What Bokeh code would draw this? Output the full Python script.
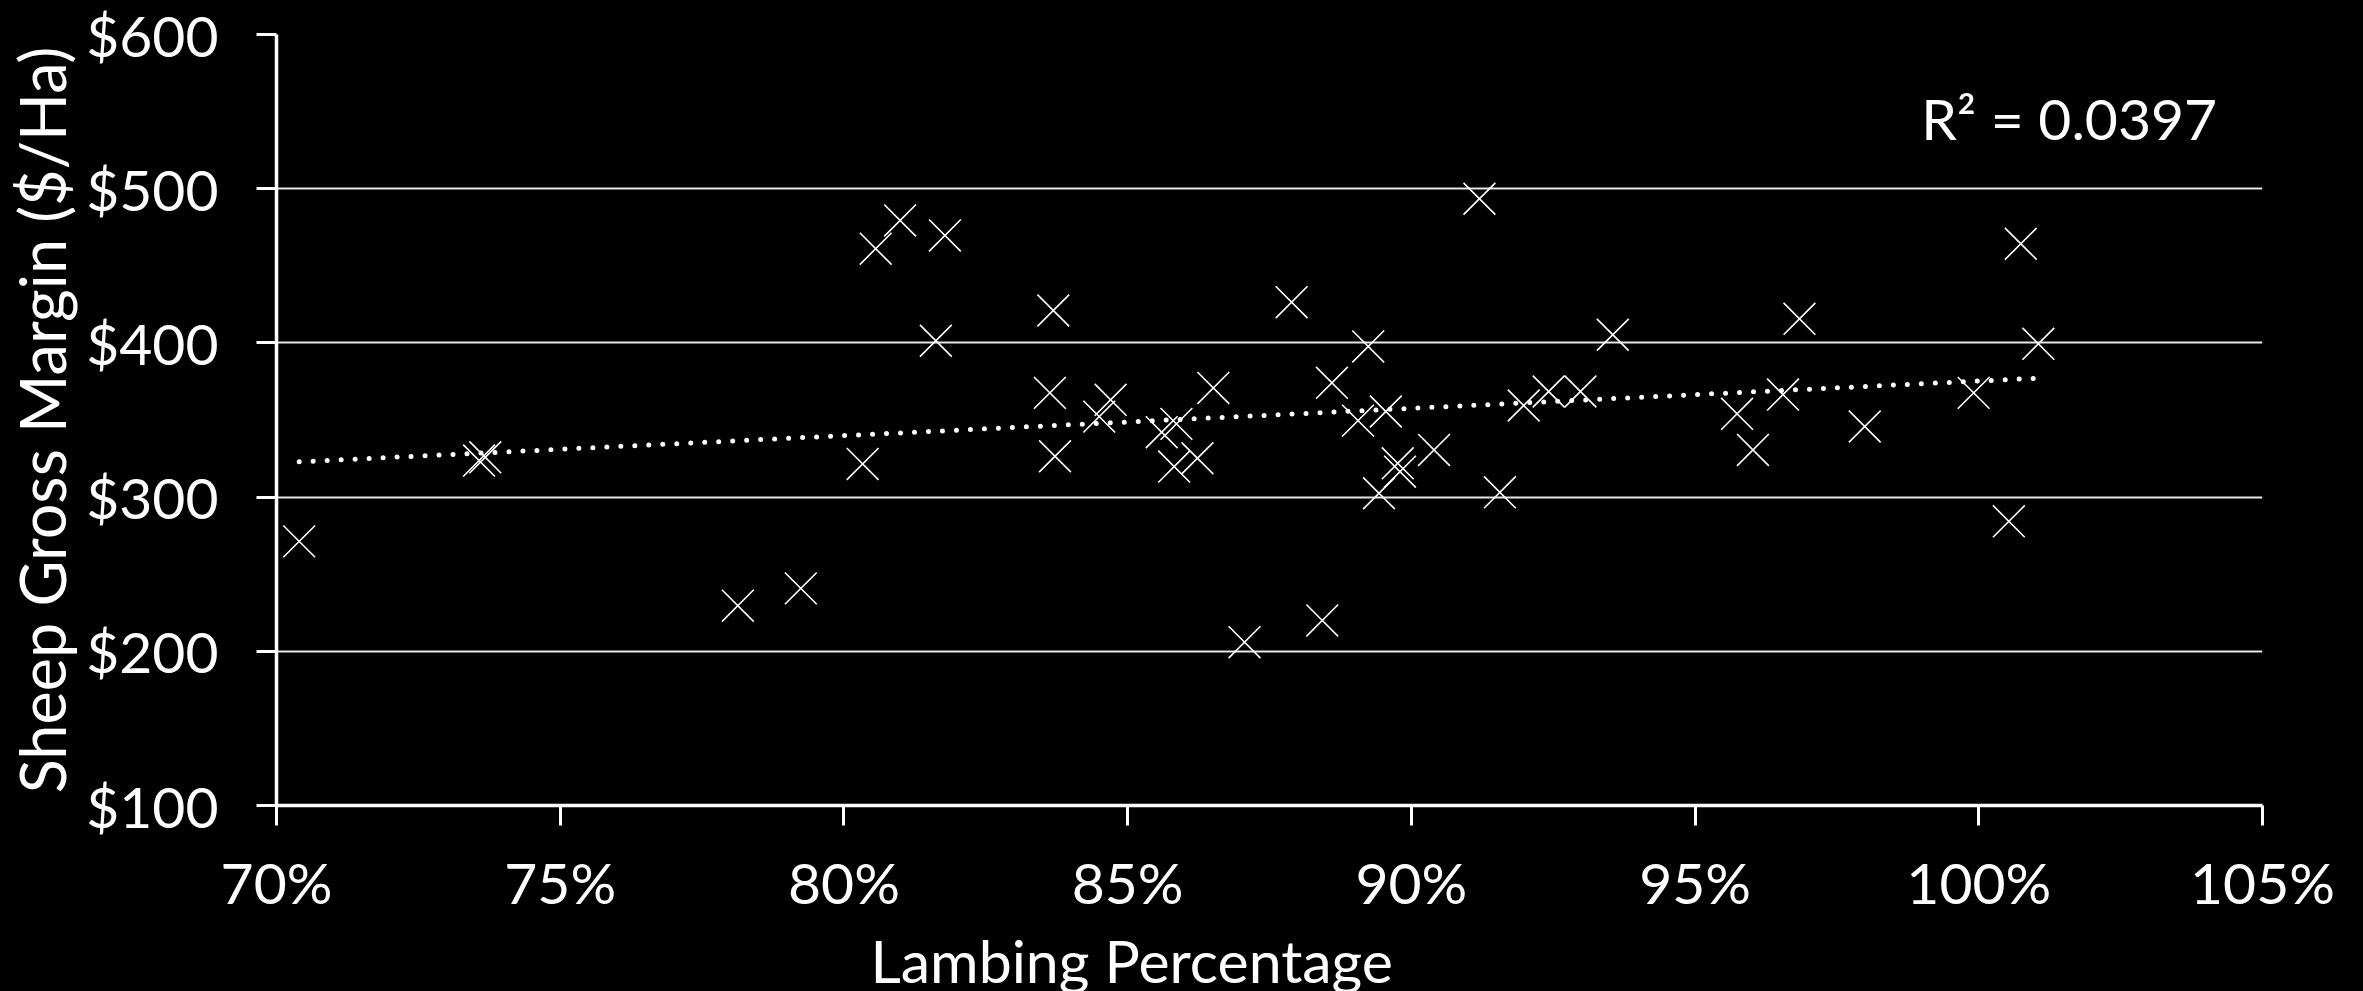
import numpy as np
from bokeh.plotting import figure
from bokeh.models import Range1d, FixedTicker, NumeralTickFormatter, Label, Title, ColumnDataSource
from bokeh.embed import file_html
from bokeh.resources import INLINE

# ---- data ----
lambing_pct = [0.7040, 0.7357, 0.7368, 0.7813, 0.7924, 0.8033, 0.8056, 0.8099, 0.8178, 0.8162,
               0.8369, 0.8363, 0.8372, 0.8450, 0.8470, 0.8560, 0.8586, 0.8582, 0.8623, 0.8651,
               0.8706, 0.8789, 0.8843, 0.8860, 0.8924, 0.8906, 0.8955, 0.8943, 0.8976, 0.8980,
               0.9040, 0.9120, 0.9156, 0.9198, 0.9242, 0.9298, 0.9355, 0.9574, 0.9602, 0.9655,
               0.9684, 0.9799, 0.9991, 1.0053, 1.0074, 1.0105]
gross_margin = [271.3, 323.7, 325.8, 229.6, 240.8, 321.5, 461.1, 479.4, 469.7, 401.4,
                421.0, 367.6, 326.5, 352.2, 363.1, 342.1, 347.5, 319.8, 325.2, 370.8,
                205.9, 426.4, 220.0, 374.1, 397.7, 349.6, 355.5, 302.5, 321.9, 316.5,
                330.6, 493.5, 303.1, 359.4, 368.5, 368.5, 405.3, 354.0, 330.6, 366.5,
                415.6, 345.8, 367.6, 284.3, 464.3, 399.4]
x_ticks = [0.70, 0.75, 0.80, 0.85, 0.90, 0.95, 1.00, 1.05]
y_ticks = [100, 200, 300, 400, 500, 600]
x_title = "Lambing Percentage"
y_title = "Sheep Gross Margin ($/Ha)"
r2_text = "R\u00b2 = 0.0397"

FONT = "Lato"
WHITE = "#ffffff"

p = figure(width=2363, height=1001, output_backend="svg", toolbar_location=None,
           x_range=Range1d(0.70, 1.05), y_range=Range1d(100, 600),
           background_fill_color="black", border_fill_color="black",
           outline_line_color=None,
           min_border_left=276, min_border_right=101, min_border_top=34, min_border_bottom=196)

# grid
p.xgrid.grid_line_color = None
p.ygrid.grid_line_color = "#e6e6e6"
p.ygrid.grid_line_width = 2
p.ygrid.ticker = FixedTicker(ticks=y_ticks)

# axes
for ax in (p.xaxis[0], p.yaxis[0]):
    ax.axis_line_color = WHITE
    ax.axis_line_width = 3.5
    ax.major_tick_line_color = WHITE
    ax.major_tick_line_width = 3
    ax.major_tick_in = 0
    ax.major_tick_out = 20
    ax.minor_tick_line_color = None
    ax.major_label_text_color = WHITE
    ax.major_label_text_font = FONT
    ax.major_label_text_font_size = "57px"
    ax.axis_label_text_color = WHITE
    ax.axis_label_text_font = FONT
    ax.axis_label_text_font_style = "normal"

p.xaxis[0].ticker = FixedTicker(ticks=x_ticks)
p.xaxis[0].formatter = NumeralTickFormatter(format="0%")
p.xaxis[0].major_label_standoff = 22

p.yaxis[0].ticker = FixedTicker(ticks=y_ticks)
p.yaxis[0].formatter = NumeralTickFormatter(format="$0")
p.yaxis[0].axis_label = y_title
p.yaxis[0].axis_label_text_font_size = "63px"
p.yaxis[0].major_label_standoff = 38
p.yaxis[0].axis_label_standoff = 4

# x axis title (sits left of centre in the reference)
p.add_layout(Title(text=x_title, align="left", offset=594, standoff=8,
                   text_color=WHITE, text_font=FONT, text_font_size="59px",
                   text_font_style="normal"), "below")

src = ColumnDataSource(data=dict(x=lambing_pct, y=gross_margin))
p.scatter("x", "y", source=src, marker="x", size=45, line_color=WHITE, line_width=1.6)

# linear trend line (least squares over the data)
xs = np.array(lambing_pct)
ys = np.array(gross_margin)
slope, intercept = np.polyfit(xs, ys, 1)
tx = [xs.min(), xs.max()]
ty = [slope * v + intercept for v in tx]
p.line(tx, ty, line_color=WHITE, line_width=5, line_dash="0 14", line_cap="round")

p.add_layout(Label(x=1.042, y=546, text=r2_text, text_align="right", text_baseline="alphabetic",
                   text_color=WHITE, text_font=FONT, text_font_size="57px"))

html = file_html(p, INLINE).replace(
    "</head>", "<style>html,body{background:#000000;overflow:hidden;}</style></head>")
open("out.html", "w").write(html)
